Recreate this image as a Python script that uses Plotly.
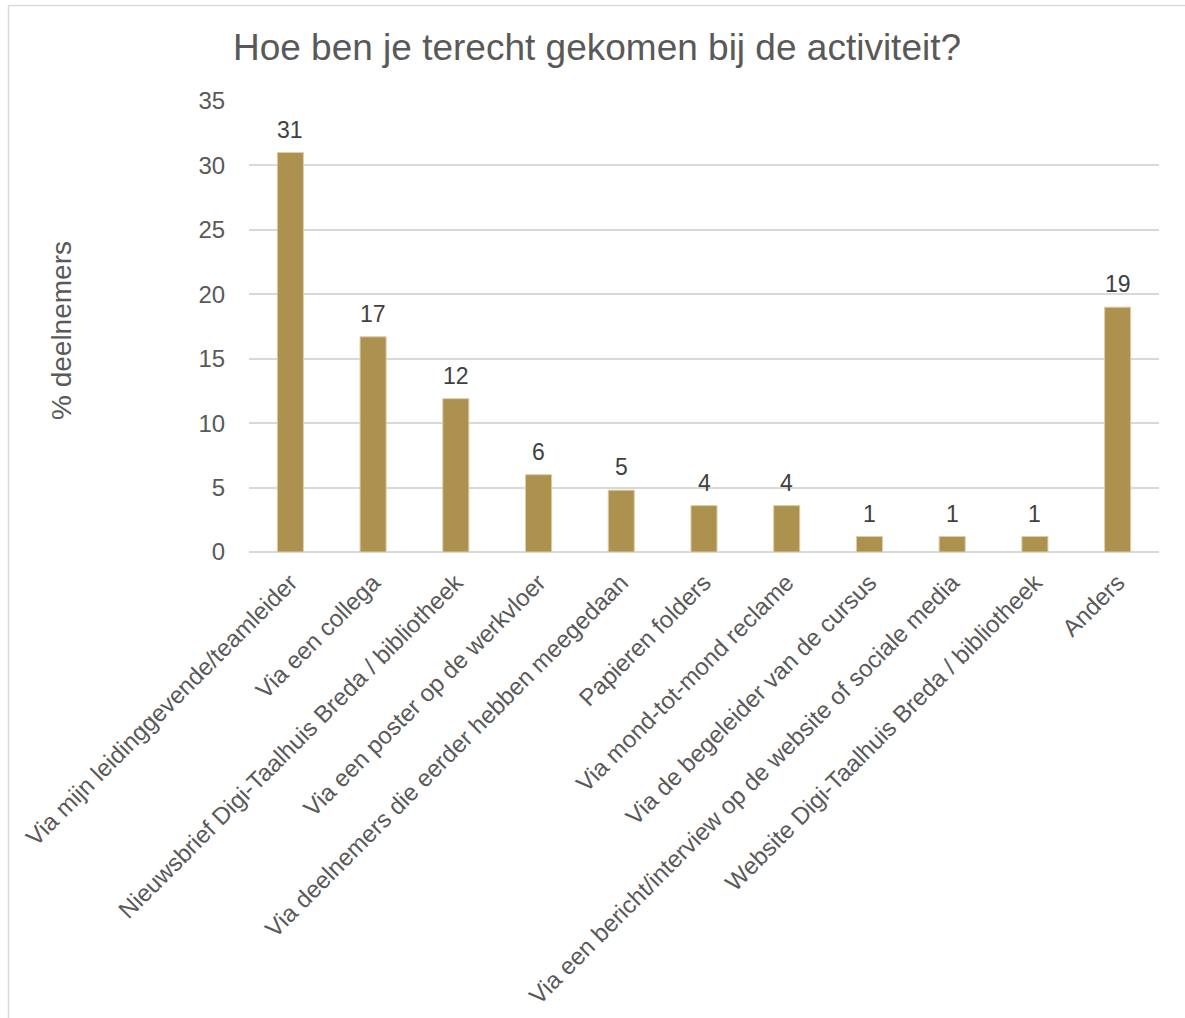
import plotly.graph_objects as go

# Survey: how participants found out about the activity (% of participants)
categories = [
    "Via mijn leidinggevende/teamleider",
    "Via een collega",
    "Nieuwsbrief Digi-Taalhuis Breda / bibliotheek",
    "Via een poster op de werkvloer",
    "Via deelnemers die eerder hebben meegedaan",
    "Papieren folders",
    "Via mond-tot-mond reclame",
    "Via de begeleider van de cursus",
    "Via een bericht/interview op de website of sociale media",
    "Website Digi-Taalhuis Breda / bibliotheek",
    "Anders",
]
percentages = [31.0, 16.7, 11.9, 6.0, 4.8, 3.6, 3.6, 1.2, 1.2, 1.2, 19.0]
y_ticks = [0, 5, 10, 15, 20, 25, 30, 35]

W, H = 1185, 1018
L, R, T, B = 249, 1159, 101, 552  # plot-area edges in pixels

FONT = "Arial, Liberation Sans, sans-serif"
GREY = "#595959"
BAR = "#AD914F"
GRID = "#D9D9D9"

fig = go.Figure(
    go.Bar(
        x=categories,
        y=percentages,
        marker=dict(color=BAR, line=dict(color="#DCCDA6", width=1)),
        hoverinfo="x+y",
    )
)


def px_x(px):
    return (px - L) / (R - L)


def px_y(py):
    return (B - py) / (B - T)


# value labels above each bar, rounded to whole percentages
value_labels = [
    dict(
        x=cat,
        y=val,
        xref="x",
        yref="y",
        text=f"{val:.0f}",
        showarrow=False,
        yanchor="bottom",
        yshift=8,
        font=dict(family=FONT, size=23, color="#404040"),
    )
    for cat, val in zip(categories, percentages)
]

fig.update_layout(
    width=W,
    height=H,
    margin=dict(l=L, r=W - R, t=T, b=H - B, pad=0),
    paper_bgcolor="white",
    plot_bgcolor="white",
    showlegend=False,
    bargap=0.685,
    font=dict(family=FONT, color=GREY),
    title=dict(
        text="Hoe ben je terecht gekomen bij de activiteit?",
        font=dict(family=FONT, size=37, color=GREY),
        x=597 / W,
        xanchor="center",
        xref="container",
        y=1 - 47 / H,
        yanchor="middle",
        yref="container",
    ),
    xaxis=dict(
        tickangle=-45,
        tickfont=dict(family=FONT, size=24, color=GREY),
        showgrid=False,
        showline=False,
        ticks="outside",
        ticklen=6,
        tickcolor="rgba(0,0,0,0)",
        automargin=False,
    ),
    yaxis=dict(
        range=[0, 35],
        tickvals=y_ticks,
        tickfont=dict(family=FONT, size=24, color=GREY),
        showgrid=True,
        gridcolor=GRID,
        gridwidth=1.5,
        zeroline=True,
        zerolinecolor=GRID,
        zerolinewidth=2,
        showline=False,
        ticks="outside",
        ticklen=18,
        tickcolor="rgba(0,0,0,0)",
        automargin=False,
    ),
    annotations=value_labels
    + [
        dict(
            text="% deelnemers",
            textangle=-90,
            x=px_x(61),
            y=px_y(331),
            xref="paper",
            yref="paper",
            xanchor="center",
            yanchor="middle",
            showarrow=False,
            font=dict(family=FONT, size=28, color=GREY),
        )
    ],
    shapes=[
        # chart-area frame (top and left edges)
        dict(type="line", xref="paper", yref="paper",
             x0=px_x(8.5), x1=px_x(W + 5), y0=px_y(5.5), y1=px_y(5.5),
             line=dict(color=GRID, width=1.5)),
        dict(type="line", xref="paper", yref="paper",
             x0=px_x(8.5), x1=px_x(8.5), y0=px_y(5.5), y1=px_y(H + 5),
             line=dict(color=GRID, width=1.5)),
    ],
)

fig.write_html("out.html")
